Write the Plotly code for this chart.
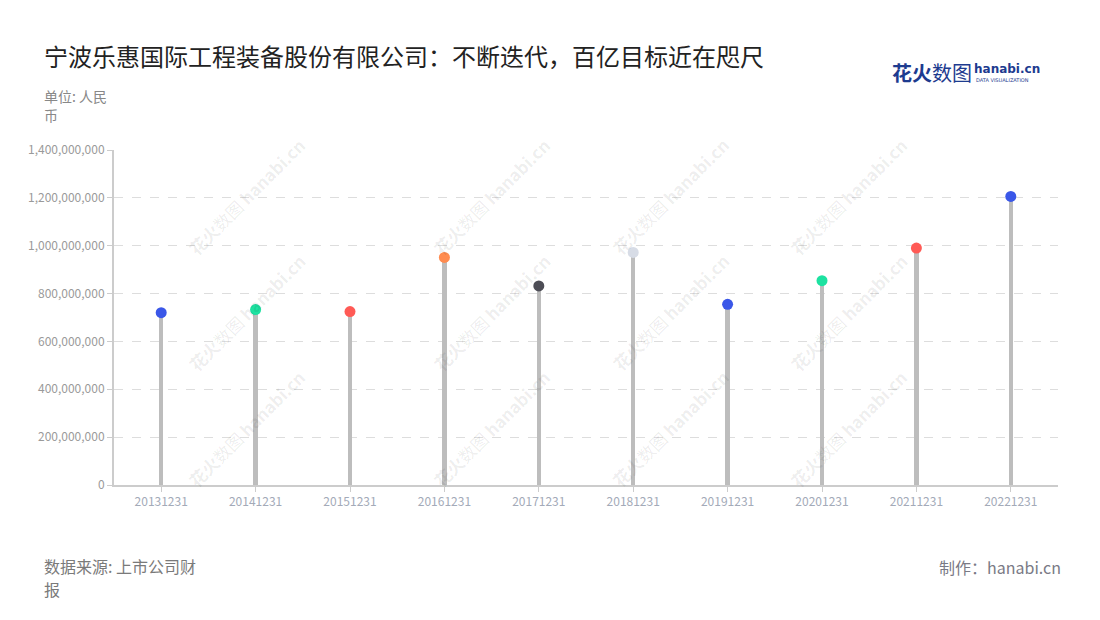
import plotly.graph_objects as go

categories = ["20131231", "20141231", "20151231", "20161231", "20171231",
              "20181231", "20191231", "20201231", "20211231", "20221231"]
values = [720e6, 733e6, 725e6, 951e6, 832e6, 972e6, 755e6, 854e6, 990e6, 1206e6]
dot_colors = ["#3a57e8", "#1de2a1", "#ff5a55", "#ff8b4f", "#4d4d56",
              "#d7dce6", "#3a57e8", "#1de2a1", "#ff5a55", "#3a57e8"]
y_ticks = [0, 200e6, 400e6, 600e6, 800e6, 1000e6, 1200e6, 1400e6]

FONT = "Noto Sans CJK SC"

fig = go.Figure()
fig.add_trace(go.Bar(
    x=categories, y=values, width=0.045,
    marker=dict(color="#bdbdbd", line=dict(width=0)),
    hoverinfo="skip", showlegend=False,
))
fig.add_trace(go.Scatter(
    x=categories, y=values, mode="markers",
    marker=dict(size=11, color=dot_colors, line=dict(width=0)),
    showlegend=False,
))

annotations = []
# watermarks
for wx in [180, 425, 670, 915]:
    for wy in [130, 312, 495]:
        annotations.append(dict(
            xref="paper", yref="paper",
            x=(wx - 114) / 944, y=(485 - wy) / 335,
            text="<b>花火</b>数图 <b>hanabi.cn</b>", textangle=-45, showarrow=False,
            font=dict(family=FONT, size=17, color="rgba(0,0,0,0.08)"),
        ))

def pxy(px, py, **kw):
    d = dict(xref="paper", yref="paper", x=(px - 114) / 944, y=(485 - py) / 335,
             showarrow=False, borderpad=0)
    d.update(kw)
    return d

annotations += [
    pxy(43, 55, text="宁波乐惠国际工程装备股份有限公司：不断迭代，百亿目标近在咫尺",
        xanchor="left", yanchor="middle",
        font=dict(family=FONT, size=24, color="#222222")),
    pxy(43, 96, text="单位: 人民", xanchor="left", yanchor="middle",
        font=dict(family=FONT, size=14, color="#888888")),
    pxy(43, 115, text="币", xanchor="left", yanchor="middle",
        font=dict(family=FONT, size=14, color="#888888")),
    pxy(43, 566, text="数据来源: 上市公司财", xanchor="left", yanchor="middle",
        font=dict(family=FONT, size=16, color="#7a7a7a")),
    pxy(43, 589, text="报", xanchor="left", yanchor="middle",
        font=dict(family=FONT, size=16, color="#7a7a7a")),
    pxy(1062, 567, text="制作：hanabi.cn", xanchor="right", yanchor="middle",
        font=dict(family=FONT, size=16, color="#7a7a85")),
    pxy(891, 72, text="<b>花火</b>数图", xanchor="left", yanchor="middle",
        font=dict(family=FONT, size=20, color="#1d3b8f")),
    pxy(973, 69, text="<b>hanabi.cn</b>", xanchor="left", yanchor="middle",
        font=dict(family="DejaVu Sans", size=12, color="#1d3b8f")),
    pxy(975, 80, text="DATA VISUALIZATION", xanchor="left", yanchor="middle",
        font=dict(family="DejaVu Sans", size=5, color="#1d3b8f")),
]

# the page body adds an 8px offset; figure is sized to fit the window
fig.update_layout(
    width=1092, height=612,
    margin=dict(l=106, r=42, t=142, b=135),
    paper_bgcolor="white", plot_bgcolor="white",
    font=dict(family=FONT),
    bargap=0,
    annotations=annotations,
    xaxis=dict(
        type="category", categoryorder="array", categoryarray=categories,
        range=[-0.5, len(categories) - 0.5],
        showline=True, linecolor="#cccccc", linewidth=2,
        ticks="outside", ticklen=5, tickcolor="#cccccc",
        tickfont=dict(family=FONT, size=12, color="#a3aab8"),
        showgrid=False, zeroline=False,
    ),
    yaxis=dict(
        range=[0, 1400e6], tickvals=y_ticks, tickformat=",d",
        showline=True, linecolor="#cccccc", linewidth=2,
        ticks="outside", ticklen=5, tickcolor="#cccccc",
        tickfont=dict(family=FONT, size=12, color="#9a9a9a"),
        showgrid=True, gridcolor="#dddddd", griddash="dash", gridwidth=1,
        zeroline=False,
    ),
)

fig.write_html("out.html")
